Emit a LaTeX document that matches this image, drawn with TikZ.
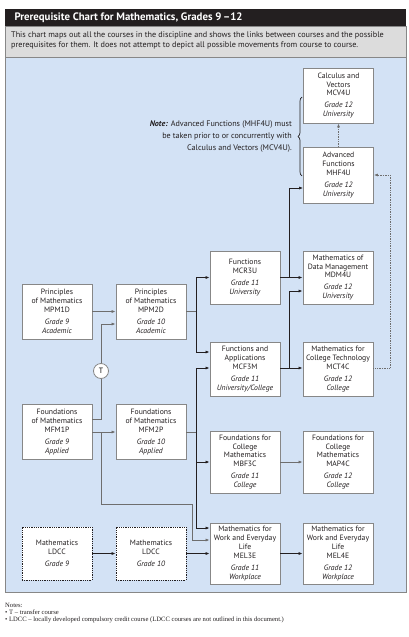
\documentclass[tikz,border=0pt]{standalone}
\usepackage{fontspec}
\setmainfont{PT Sans}
\newfontfamily\notefont{Liberation Serif}
\usetikzlibrary{arrows.meta,decorations.pathreplacing}
\definecolor{panelblue}{RGB}{211,226,245}
\definecolor{descgray}{RGB}{220,220,220}
\definecolor{titleblack}{RGB}{35,31,32}
\definecolor{boxgray}{RGB}{135,135,135}
\definecolor{linegray}{RGB}{110,110,110}
\definecolor{linedark}{RGB}{35,31,32}
\begin{document}
\begin{tikzpicture}[x=1pt,y=-1pt,
  course/.style={draw=boxgray, fill=white, line width=0.8pt, minimum width=70pt,
    minimum height=55pt, align=center, inner sep=1pt, text=titleblack,
    font=\fontsize{7.7}{8.9}\selectfont},
  ldcc/.style={course, draw=linedark, densely dotted},
  arr/.style={-{Latex[length=4pt,width=3pt]}},
  gline/.style={draw=linegray, line width=0.7pt},
  dline/.style={draw=linedark, line width=0.7pt},
  dotline/.style={draw=linegray, line width=0.7pt, densely dotted},
  tcircle/.style={circle, draw=boxgray, fill=white, line width=0.8pt, minimum size=15pt,
    inner sep=0pt, font=\fontsize{7.7}{8}\selectfont}]
\useasboundingbox (0,0) rectangle (409,637);
\fill[white] (0,0) rectangle (409,637);
% panels
\fill[titleblack] (5,9) rectangle (406,26);
\node[anchor=west, text=white, font=\fontsize{10.8}{12}\selectfont\bfseries] (title) at (11,17.8) {Prerequisite Chart for Mathematics, Grades 9\,–12};
\filldraw[fill=descgray, draw=boxgray, line width=0.6pt] (5,26) rectangle (406,57);
\node[anchor=north west, align=left, inner sep=0pt, text=titleblack,
  font=\fontsize{8.2}{10}\selectfont] (desc) at (11,31.5)
  {This chart maps out all the courses in the discipline and shows the links between courses and the possible\\prerequisites for them. It does not attempt to depict all possible movements from course to course.};
\filldraw[fill=panelblue, draw=boxgray, line width=0.8pt] (5,57) rectangle (406,592);

% courses
\node[course] (mcv) at (338.5,95.5) {Calculus and\\Vectors\\MCV4U\\[3pt]\textit{Grade 12}\\\textit{University}};
\node[course, minimum height=56pt] (mhf) at (338.5,175) {Advanced\\Functions\\MHF4U\\[3pt]\textit{Grade 12}\\\textit{University}};
\node[course, minimum height=53pt] (mcr) at (245,277.5) {Functions\\MCR3U\\[3pt]\textit{Grade 11}\\\textit{University}};
\node[course, minimum height=53pt] (mdm) at (338,277.5) {Mathematics of\\Data Management\\MDM4U\\[3pt]\textit{Grade 12}\\\textit{University}};
\node[course, minimum height=54pt] (mcf) at (245,369) {Functions and\\Applications\\MCF3M\\[3pt]\textit{Grade 11}\\\textit{University/College}};
\node[course, minimum height=54pt] (mct) at (338,369) {Mathematics for\\College Technology\\MCT4C\\[3pt]\textit{Grade 12}\\\textit{College}};
\node[course] (mpm1) at (57,311.5) {Principles\\of Mathematics\\MPM1D\\[3pt]\textit{Grade 9}\\\textit{Academic}};
\node[course] (mpm2) at (151,311.5) {Principles\\of Mathematics\\MPM2D\\[3pt]\textit{Grade 10}\\\textit{Academic}};
\node[course] (mfm1) at (57,432) {Foundations\\of Mathematics\\MFM1P\\[3pt]\textit{Grade 9}\\\textit{Applied}};
\node[course] (mfm2) at (151,432) {Foundations\\of Mathematics\\MFM2P\\[3pt]\textit{Grade 10}\\\textit{Applied}};
\node[course, minimum height=62pt] (mbf) at (245,462) {Foundations for\\College\\Mathematics\\MBF3C\\[3pt]\textit{Grade 11}\\\textit{College}};
\node[course, minimum height=62pt] (map) at (338,462) {Foundations for\\College\\Mathematics\\MAP4C\\[3pt]\textit{Grade 12}\\\textit{College}};
\node[course, minimum height=61pt] (mel3) at (245,553.5) {Mathematics for\\Work and Everyday\\Life\\MEL3E\\[3pt]\textit{Grade 11}\\\textit{Workplace}};
\node[course, minimum height=61pt] (mel4) at (338,553.5) {Mathematics for\\Work and Everyday\\Life\\MEL4E\\[3pt]\textit{Grade 12}\\\textit{Workplace}};
\node[ldcc, minimum height=53pt] (ld9) at (57,553.5) {Mathematics\\LDCC\\[3pt]\textit{Grade 9}};
\node[ldcc, minimum height=53pt] (ld10) at (151,553.5) {Mathematics\\LDCC\\[3pt]\textit{Grade 10}};
\node[tcircle] (T) at (101,371) {T};

% note and brace
\node[anchor=east, align=right, inner sep=0pt, text=titleblack, font=\fontsize{8.1}{12}\selectfont] (note) at (292,136.5)
  {\textbf{\textit{Note:}} Advanced Functions (MHF4U) must\\be taken prior to or concurrently with\\Calculus and Vectors (MCV4U).};
\coordinate (brb) at (302,176);
\coordinate (brt) at (302,97);
\draw[draw=linedark, line width=0.7pt, decorate, decoration={brace, amplitude=4pt}] (brb) -- (brt);

% connectors
\draw[gline, arr] (mpm1.east) -- (mpm2.west);
\draw[gline] (mfm1.east |- 0,419) -| (T);
\draw[gline, arr] (T) |- (mpm2.west |- 0,324);
\draw[gline, arr] (mfm1.east) -- (mfm2.west);
\coordinate (b1) at (101,432);
\draw[gline, arr] (b1) |- (192,504) |- (mel3.west |- 0,540);
\coordinate (j1) at (196,311.5);
\draw[gline] (mpm2.east) -- (j1);
\draw[dline, arr] (j1) |- (mcr.west);
\draw[dline, arr] (j1) |- (mcf.west |- 0,352);
\coordinate (j2) at (196,432);
\draw[gline] (mfm2.east) -- (j2);
\draw[dline, arr] (196,528) |- (mcf.west |- 0,368) ;
\draw[dline, arr] (j2) |- (mbf.west);
\draw[dline, arr] (j2) |- (mel3.west |- 0,528);
\coordinate (j3) at (289,277.5);
\draw[dline, arr] (mcr.east) -- (mdm.west);
\draw[dline, arr] (j3) |- (mhf.west |- 0,188);
\coordinate (j4) at (289,368);
\draw[dline, arr] (mcf.east |- j4) -- (mct.west |- j4);
\draw[dline, arr] (j4) |- (mdm.west |- 0,291);
\draw[gline, arr] (mbf.east) -- (map.west);
\draw[dline, arr] (ld9.east) -- (ld10.west);
\draw[dline, arr] (ld10.east) -- (mel3.west |- ld10.east);
\draw[dline, arr] (mel3.east) -- (mel4.west);
\draw[dotline, arr] (mct.east |- j4) -- (390,368) |- (mhf.east);
\draw[dotline, arr] (mhf.north) -- (mcv.south);

% footnotes
\node[anchor=north west, align=left, inner sep=0pt, text=titleblack, font=\notefont\fontsize{6.6}{7.2}\selectfont] (notes) at (5,602.5)
  {Notes:\\\textbullet\ T – transfer course\\\textbullet\ LDCC – locally developed compulsory credit course (LDCC courses are not outlined in this document.)};
\end{tikzpicture}
\end{document}
